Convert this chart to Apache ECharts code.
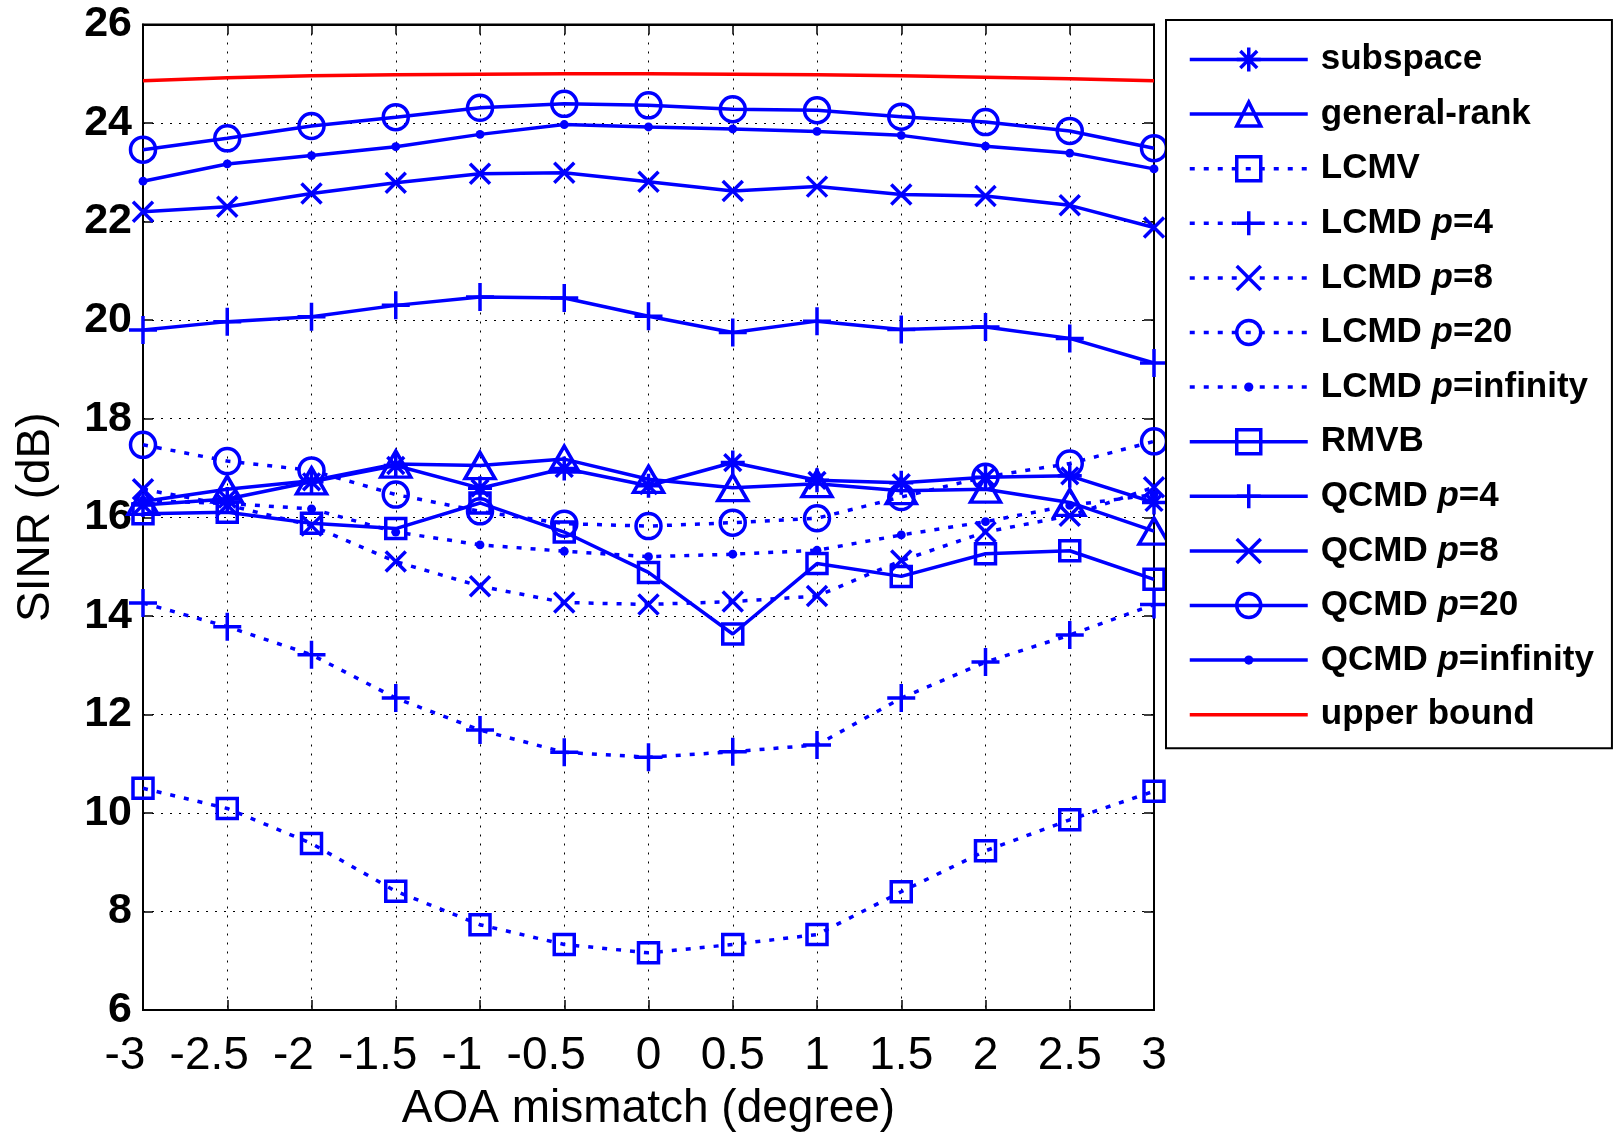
<!DOCTYPE html>
<html>
<head>
<meta charset="utf-8">
<script src="https://cdn.jsdelivr.net/npm/echarts@6/dist/echarts.min.js"></script>
<style>
  html, body { margin: 0; padding: 0; background: #fff; }
  #chart { width: 1614px; height: 1137px; }
</style>
</head>
<body>
<div id="chart"></div>
<script>
// AOA mismatch (degree)
const aoa = [-3, -2.5, -2, -1.5, -1, -0.5, 0, 0.5, 1, 1.5, 2, 2.5, 3];

// SINR (dB) per beamformer
const subspace     = [16.25, 16.37, 16.72, 17.05, 16.59, 16.99, 16.64, 17.11, 16.75, 16.70, 16.81, 16.84, 16.30];
const generalRank  = [16.32, 16.57, 16.74, 17.08, 17.05, 17.18, 16.77, 16.60, 16.68, 16.54, 16.57, 16.30, 15.72];
const lcmv         = [10.50, 10.09, 9.38, 8.41, 7.73, 7.33, 7.16, 7.33, 7.53, 8.40, 9.23, 9.86, 10.44];
const lcmdP4       = [14.26, 13.78, 13.21, 12.33, 11.68, 11.23, 11.13, 11.24, 11.38, 12.33, 13.06, 13.61, 14.23];
const lcmdP8       = [16.57, 16.25, 15.83, 15.10, 14.60, 14.27, 14.23, 14.29, 14.40, 15.12, 15.70, 16.03, 16.61];
const lcmdP20      = [17.47, 17.14, 16.95, 16.46, 16.12, 15.87, 15.82, 15.89, 15.98, 16.41, 16.82, 17.09, 17.54];
const lcmdPInf     = [16.34, 16.28, 16.17, 15.70, 15.44, 15.31, 15.20, 15.25, 15.33, 15.64, 15.91, 16.24, 16.46];
const rmvb         = [16.07, 16.10, 15.88, 15.77, 16.29, 15.70, 14.88, 13.63, 15.06, 14.80, 15.26, 15.32, 14.74];
const qcmdP4       = [19.80, 19.97, 20.07, 20.30, 20.47, 20.45, 20.08, 19.75, 19.98, 19.81, 19.86, 19.63, 19.13];
const qcmdP8       = [22.20, 22.30, 22.57, 22.79, 22.97, 22.99, 22.81, 22.62, 22.71, 22.55, 22.52, 22.33, 21.88];
const qcmdP20      = [23.46, 23.69, 23.94, 24.12, 24.31, 24.39, 24.36, 24.28, 24.26, 24.13, 24.02, 23.84, 23.49];
const qcmdPInf     = [22.82, 23.17, 23.34, 23.52, 23.77, 23.97, 23.92, 23.88, 23.83, 23.75, 23.53, 23.39, 23.07];
const upperBound   = [24.86, 24.92, 24.96, 24.98, 24.99, 25.00, 25.00, 24.99, 24.98, 24.96, 24.93, 24.90, 24.86];

// axis ranges and tick steps
const xMin = -3, xMax = 3, xStep = 0.5;
const yMin = 6, yMax = 26, yStep = 2;

const FONT = 'Liberation Sans, Arial, Helvetica, sans-serif';
const BLUE = '#0000ff';

// marker shapes (stroke-only paths)
const SYM = {
  asterisk: 'path://M10,0L10,20M0,10L20,10M3,3L17,17M3,17L17,3',
  cross: 'path://M0,0L20,20M0,20L20,0',
  plus: 'path://M10,0L10,20M0,10L20,10',
  dot: 'path://M0,0L0,0M26,26L26,26M8,13a5,5 0 1,0 10,0a5,5 0 1,0 -10,0'
};

function pairs(vals) {
  return aoa.map((x, i) => [x, vals[i]]);
}

function lineSeries(name, vals, symbol, size, dotted, filled) {
  return {
    name: name,
    type: 'line',
    data: pairs(vals),
    symbol: symbol,
    symbolSize: size,
    symbolKeepAspect: false,
    showSymbol: true,
    clip: false,
    lineStyle: {
      color: BLUE,
      width: 3.5,
      type: dotted ? [5, 9] : 'solid'
    },
    itemStyle: filled
      ? { color: BLUE, borderWidth: 0 }
      : { color: 'none', borderColor: BLUE, borderWidth: 3.5 },
    emphasis: { disabled: true },
    animation: false
  };
}

const series = [
  lineSeries('subspace', subspace, SYM.asterisk, 24, false, false),
  lineSeries('general-rank', generalRank, 'triangle', [30, 26], false, false),
  lineSeries('LCMV', lcmv, 'rect', 20, true, false),
  lineSeries('LCMD p=4', lcmdP4, SYM.plus, 28, true, false),
  lineSeries('LCMD p=8', lcmdP8, SYM.cross, 20, true, false),
  lineSeries('LCMD p=20', lcmdP20, 'circle', 25, true, false),
  lineSeries('LCMD p=infinity', lcmdPInf, SYM.dot, 23, true, true),
  lineSeries('RMVB', rmvb, 'rect', 20, false, false),
  lineSeries('QCMD p=4', qcmdP4, SYM.plus, 28, false, false),
  lineSeries('QCMD p=8', qcmdP8, SYM.cross, 20, false, false),
  lineSeries('QCMD p=20', qcmdP20, 'circle', 25, false, false),
  lineSeries('QCMD p=infinity', qcmdPInf, SYM.dot, 23, false, true),
  {
    name: 'upper bound',
    type: 'line',
    data: pairs(upperBound),
    symbol: 'none',
    lineStyle: { color: '#ff0000', width: 3.5 },
    itemStyle: { color: 'none', borderWidth: 0 },
    emphasis: { disabled: true },
    animation: false
  }
];

// legend entries; the filled-dot markers keep no outline
const legendEntries = series.map(s => {
  const filled = s.itemStyle.color === BLUE;
  const isBound = s.name === 'upper bound';
  if (filled) return { name: s.name, itemStyle: { color: BLUE, borderWidth: 0 } };
  if (isBound) return { name: s.name, itemStyle: { color: 'none', borderWidth: 0, opacity: 0 } };
  return { name: s.name, itemStyle: { color: 'none', borderColor: BLUE, borderWidth: 3.5 } };
});

const gridStyle = { show: true, lineStyle: { color: '#000', width: 1, type: [2, 7] } };
const tickStyle = { show: true, inside: true, length: 10, lineStyle: { color: '#000', width: 1.5 } };

const option = {
  backgroundColor: '#fff',
  animation: false,
  grid: {
    left: 143, right: 460, top: 24.5, bottom: 120,
    show: true, borderColor: '#000', borderWidth: 2, backgroundColor: 'transparent'
  },
  xAxis: [
    {
      type: 'value', min: xMin, max: xMax, interval: xStep,
      name: 'AOA mismatch (degree)', nameLocation: 'middle', nameGap: 76,
      nameTextStyle: { fontFamily: FONT, fontSize: 46, color: '#000' },
      axisLine: { show: true, onZero: false, lineStyle: { color: '#000', width: 2 } },
      axisTick: tickStyle,
      axisLabel: {
        fontFamily: FONT, fontSize: 46, color: '#000', margin: 23,
        formatter: function (v) {
          const s = String(v);
          return v < 0 ? '{neg|' + s + '}' : '{pos|' + s + '}';
        },
        rich: {
          neg: { fontFamily: FONT, fontSize: 46, color: '#000', padding: [0, 36, 0, 0] },
          pos: { fontFamily: FONT, fontSize: 46, color: '#000' }
        }
      },
      splitLine: gridStyle
    },
    {
      type: 'value', min: xMin, max: xMax, interval: xStep, position: 'top',
      axisLine: { show: true, onZero: false, lineStyle: { color: '#000', width: 2 } },
      axisTick: tickStyle, axisLabel: { show: false }, splitLine: { show: false }
    }
  ],
  yAxis: [
    {
      type: 'value', min: yMin, max: yMax, interval: yStep,
      name: 'SINR (dB)', nameLocation: 'middle', nameGap: 84, nameRotate: 90,
      nameTextStyle: { fontFamily: FONT, fontSize: 46, color: '#000' },
      axisLine: { show: true, onZero: false, lineStyle: { color: '#000', width: 2 } },
      axisTick: tickStyle,
      axisLabel: { fontFamily: FONT, fontSize: 43, fontWeight: 'bold', color: '#000', margin: 11 },
      splitLine: gridStyle
    },
    {
      type: 'value', min: yMin, max: yMax, interval: yStep, position: 'right',
      axisLine: { show: true, onZero: false, lineStyle: { color: '#000', width: 2 } },
      axisTick: tickStyle, axisLabel: { show: false }, splitLine: { show: false }
    }
  ],
  legend: {
    orient: 'vertical',
    left: 1166, top: 20,
    padding: [22, 18, 16, 22],
    itemWidth: 118, itemHeight: 30, itemGap: 19.6,
    backgroundColor: '#fff', borderColor: '#000', borderWidth: 2, borderRadius: 0,
    selectedMode: false,
    lineStyle: { width: 3.5 },
    data: legendEntries,
    formatter: function (name) {
      const m = name.match(/^(.*) p=(.*)$/);
      if (m) return '{a|' + m[1] + ' }{i|p}{a|=' + m[2] + '}';
      return '{a|' + name + '}';
    },
    textStyle: {
      fontFamily: FONT, fontSize: 35, fontWeight: 'bold', color: '#000',
      padding: [0, 0, 0, 8],
      rich: {
        a: { fontFamily: FONT, fontSize: 35, fontWeight: 'bold', color: '#000' },
        i: { fontFamily: FONT, fontSize: 35, fontWeight: 'bold', fontStyle: 'italic', color: '#000' }
      }
    }
  },
  series: series
};

const chart = echarts.init(document.getElementById('chart'), null, { renderer: 'canvas' });
chart.setOption(option);
</script>
</body>
</html>
